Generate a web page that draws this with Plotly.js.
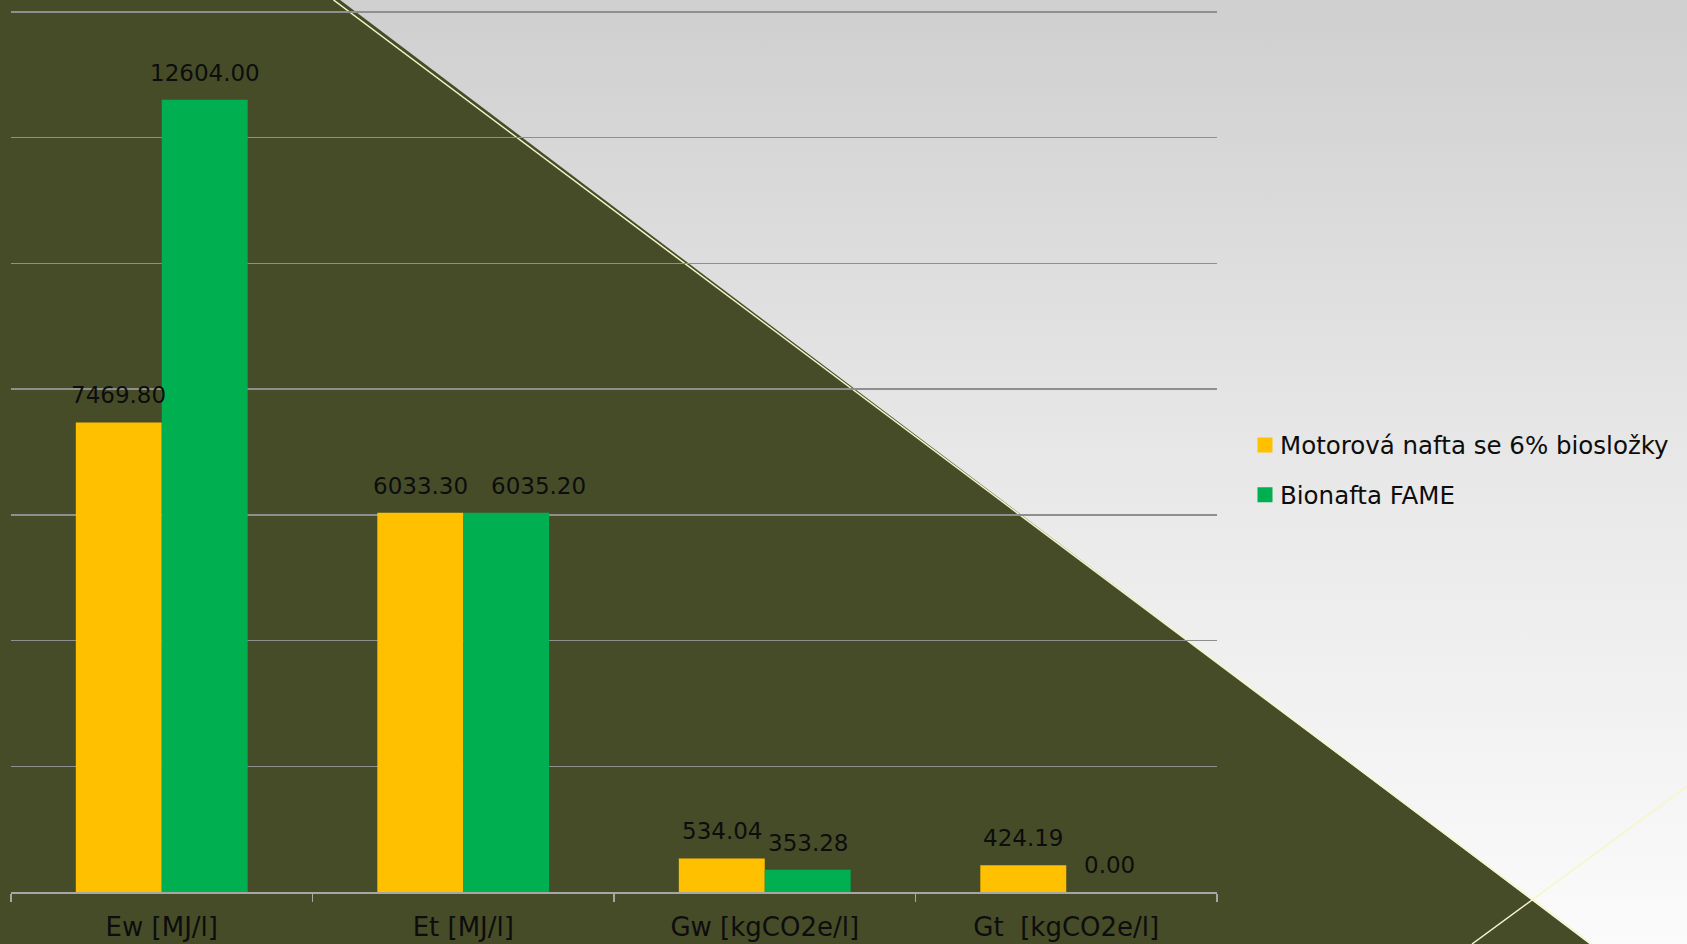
<!DOCTYPE html>
<html>
<head>
<meta charset="utf-8">
<script src="https://cdn.plot.ly/plotly-3.0.1.min.js"></script>
<style>
  html, body { margin: 0; padding: 0; }
  #chart { width: 1687px; height: 944px; background: linear-gradient(to bottom, #cfcfcf 0%, #e6e6e6 45%, #fbfbfb 100%); }
</style>
</head>
<body>
<div id="chart"></div>
<script>
// ---- data ----
const categories = ['Ew [MJ/l]', 'Et [MJ/l]', 'Gw [kgCO2e/l]', 'Gt\u00a0 [kgCO2e/l]'];
const dieselValues = [7469.80, 6033.30, 534.04, 424.19];
const fameValues = [12604.00, 6035.20, 353.28, 0.00];
const seriesNames = ['Motorová nafta se 6% biosložky', 'Bionafta FAME'];
const seriesColors = ['#FFC000', '#00B050'];

// ---- layout geometry ----
const W = 1687, H = 944;
const M = { l: 11, r: 470, t: 10, b: 52 };
const plotW = W - M.l - M.r, plotH = H - M.t - M.b;
const yMax = 14032;
const bargap = 0.43;
const FONT = '"DejaVu Sans", "Open Sans", sans-serif';
// label nudges (pixels) as placed in the original: [series][category]
const labelNudgeX = [[0, 0, 0, 0], [0, 32, 0, 0]];

function px(x) { return (x - M.l) / plotW; }
function py(y) { return (H - M.b - y) / plotH; }

const olive = '#464c28';
const edge = '#f6f6c8';

const shapes = [
  {
    type: 'path', xref: 'paper', yref: 'paper', layer: 'below',
    path: `M ${px(-5)} ${py(-5)} L ${px(333.5)} ${py(-5)} L ${px(1596)} ${py(H + 5)} L ${px(-5)} ${py(H + 5)} Z`,
    fillcolor: olive, line: { width: 0 }
  },
  {
    type: 'line', xref: 'paper', yref: 'paper', layer: 'below',
    x0: px(333.5), y0: py(0), x1: px(1592), y1: py(H),
    line: { color: edge, width: 1.5 }
  },
  {
    type: 'line', xref: 'paper', yref: 'paper', layer: 'below',
    x0: px(1472), y0: py(H), x1: px(1690), y1: py(784),
    line: { color: edge, width: 1.5 }
  }
];

const seriesValues = [dieselValues, fameValues];
const traces = seriesValues.map((vals, s) => ({
  type: 'bar',
  name: seriesNames[s],
  x: categories,
  y: vals,
  marker: { color: seriesColors[s], line: { width: 0 } },
  legendgroup: 'g' + s,
  hoverinfo: 'skip'
}));

// data labels above bars
const catW = plotW / categories.length;
const barW = catW * (1 - bargap) / 2;
const annotations = [];
seriesValues.forEach((vals, s) => {
  vals.forEach((v, i) => {
    annotations.push({
      x: categories[i], y: v, xref: 'x', yref: 'y',
      xshift: (s === 0 ? -1 : 1) * barW / 2 + labelNudgeX[s][i], yshift: 27,
      text: v.toFixed(2), showarrow: false,
      font: { family: FONT, size: 23, color: '#0d0d0d' }
    });
  });
});

const layout = {
  width: W, height: H,
  margin: M,
  paper_bgcolor: 'rgba(0,0,0,0)',
  plot_bgcolor: 'rgba(0,0,0,0)',
  barmode: 'group',
  bargap: bargap,
  bargroupgap: 0,
  showlegend: true,
  legend: {
    x: px(1240), xanchor: 'left',
    y: py(470), yanchor: 'middle',
    font: { family: FONT, size: 24.5, color: '#0d0d0d' },
    bgcolor: 'rgba(0,0,0,0)',
    tracegroupgap: 15,
    traceorder: 'grouped'
  },
  xaxis: {
    type: 'category',
    showline: true, linecolor: '#a6a6a6', linewidth: 1.5,
    ticks: 'outside', tickson: 'boundaries', ticklen: 8, tickcolor: '#a6a6a6', tickwidth: 1.5,
    ticklabelstandoff: 11,
    showgrid: false, zeroline: false,
    tickfont: { family: FONT, size: 26, color: '#0d0d0d' },
    fixedrange: true
  },
  yaxis: {
    range: [0, yMax], dtick: 2000, tick0: 0,
    showticklabels: false, ticks: '',
    showgrid: true, gridcolor: '#8f8f8f', gridwidth: 1.5,
    zeroline: false, showline: false,
    fixedrange: true
  },
  shapes: shapes,
  annotations: annotations,
  font: { family: FONT, color: '#0d0d0d' }
};

Plotly.newPlot('chart', traces, layout, { displayModeBar: false, staticPlot: true }).then(gd => {
  // enlarge legend swatches and place them close to the text, like the original
  gd.querySelectorAll('.legend .legendpoints path').forEach(p => {
    p.setAttribute('d', 'M12.5,7.5H-2.5V-7.5H12.5Z');
  });
});
</script>
</body>
</html>
